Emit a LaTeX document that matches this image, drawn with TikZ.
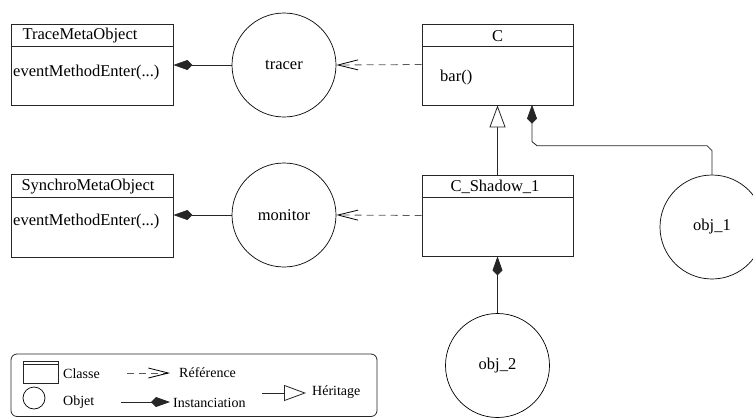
\documentclass[tikz,border=0pt]{standalone}
\usepackage{fontspec}
\setmainfont{Liberation Serif}
\usetikzlibrary{arrows.meta,calc}
\begin{document}
\begin{tikzpicture}[x=1pt,y=-1pt,
  ln/.style={line width=0.8pt, draw=black!85},
  box/.style={ln, minimum width=162pt, minimum height=81pt, inner sep=0pt},
  cbox/.style={box, minimum width=151pt},
  obj/.style={draw=black, line width=0.7pt, circle, minimum size=104pt, inner sep=0pt, font=\fontsize{16.5}{18}\selectfont},
  lbl/.style={font=\fontsize{16.5}{18}\selectfont, inner sep=0pt},
  lgd/.style={font=\fontsize{14}{16}\selectfont, inner sep=0pt, anchor=west},
  inst/.style={ln, -{Kite[length=19pt,width=10pt,inset=5pt]}},
  ref/.style={line width=0.8pt, draw=black!65, dash pattern=on 7pt off 5pt, -{Straight Barb[length=20pt,width=10pt,black]}},
  inherit/.style={ln, -{Triangle[open, length=22pt, width=16pt, fill=white]}}
]
\useasboundingbox (0,0) rectangle (753,418);

% classes
\node[box] (trace) at (92,64.5) {};
\draw[ln] ($(trace.north west)+(0,23)$) -- ($(trace.north east)+(0,23)$);
\node[lbl] (traceT) at (80,36) {TraceMetaObject};
\node[lbl, anchor=west] (traceM) at (13,73) {eventMethodEnter(...)};

\node[box, minimum height=83pt] (synchro) at (92,215.5) {};
\draw[ln] ($(synchro.north west)+(0,24)$) -- ($(synchro.north east)+(0,24)$);
\node[lbl] (synchroT) at (88,187) {SynchroMetaObject};
\node[lbl, anchor=west] (synchroM) at (13,222) {eventMethodEnter(...)};

\node[cbox] (C) at (497.5,64.5) {};
\draw[ln] ($(C.north west)+(0,23)$) -- ($(C.north east)+(0,23)$);
\node[lbl] (CT) at (497.5,36) {C};
\node[lbl, anchor=west] (CM) at (440,78) {bar()};

\node[cbox] (Cs) at (497.5,215.5) {};
\draw[ln] ($(Cs.north west)+(0,23)$) -- ($(Cs.north east)+(0,23)$);
\node[lbl] (CsT) at (495,187) {C\_Shadow\_1};

% objects
\node[obj] (tracer) at (284,65) {tracer};
\node[obj] (monitor) at (284,215) {monitor};
\node[obj] (obj1) at (712,227) {obj\_1};
\node[obj] (obj2) at (497.5,365.5) {obj\_2};

% connectors
\draw[inst] (tracer.west) -- (tracer.west -| trace.east);
\draw[inst] (monitor.west) -- (monitor.west -| synchro.east);
\draw[ref] (C.west) -- (tracer.east);
\draw[ref] (Cs.west) -- (monitor.east);
\draw[inherit] (Cs.north) -- (C.south);
\draw[inst] (obj2.north) -- (Cs.south);
\draw[inst] (obj1.north) -- ++(0,-24) -- ++(-5,-5) -- ++(-170,0) -- ++(-5,-4) -- ++(0,-37);

% legend
\draw[ln, rounded corners=6pt] (11,354) rectangle (377,416.5);
\node[ln, minimum width=35pt, minimum height=22pt, inner sep=0pt] (lclass) at (40.5,372) {};
\draw[ln] ($(lclass.north west)+(0,4)$) -- ($(lclass.north east)+(0,4)$);
\node[lgd] (lclassT) at (63,374) {Classe};
\node[draw=black, line width=0.7pt, circle, minimum size=22pt, inner sep=0pt] (lobj) at (34,398) {};
\node[lgd] (lobjT) at (63,402) {Objet};

\coordinate (r1) at (127,373);
\coordinate (r2) at (170,373);
\draw[ref] (r1) -- (r2);
\node[lgd] (lrefT) at (179,373) {Référence};

\coordinate (i1) at (121,402);
\coordinate (i2) at (170,402);
\draw[inst] (i1) -- (i2);
\node[lgd] (linstT) at (173,403) {Instanciation};

\coordinate (h1) at (262,393);
\coordinate (h2) at (306,393);
\draw[inherit] (h1) -- (h2);
\node[lgd] (lherT) at (312,392) {Héritage};
\end{tikzpicture}
\end{document}
